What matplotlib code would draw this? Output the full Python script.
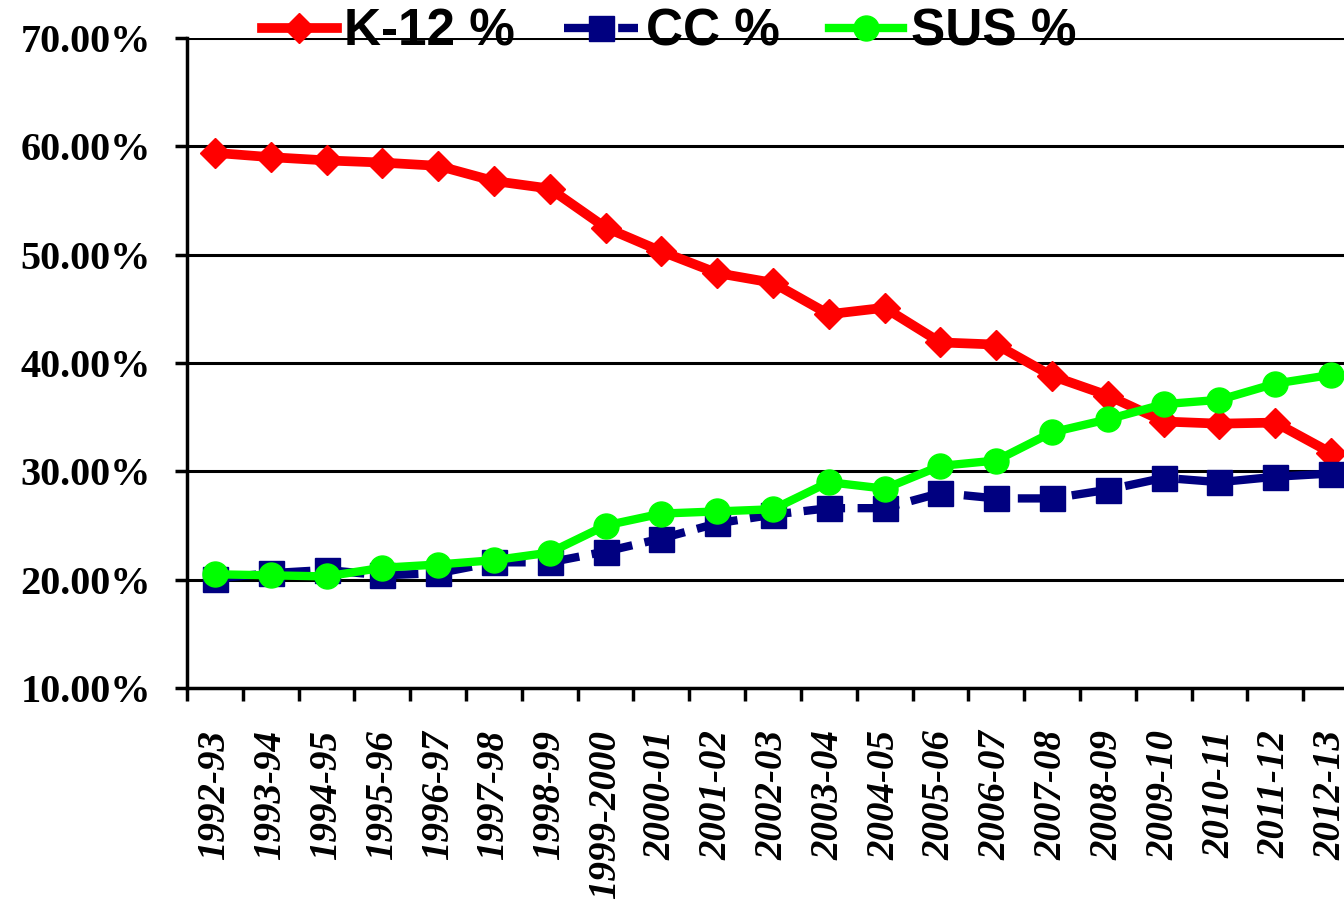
import matplotlib
matplotlib.use('Agg')
import matplotlib.pyplot as plt
import numpy as np

# school years
years = ['1992-93', '1993-94', '1994-95', '1995-96', '1996-97', '1997-98', '1998-99',
         '1999-2000', '2000-01', '2001-02', '2002-03', '2003-04', '2004-05', '2005-06',
         '2006-07', '2007-08', '2008-09', '2009-10', '2010-11', '2011-12', '2012-13']

# shares in percent
k12 = [59.4, 59.0, 58.7, 58.5, 58.2, 56.8, 56.1, 52.5, 50.3, 48.3, 47.4, 44.5, 45.1,
       41.9, 41.7, 38.8, 37.0, 34.6, 34.4, 34.5, 31.7]
cc = [20.1, 20.6, 20.9, 20.4, 20.6, 21.6, 21.6, 22.6, 23.8, 25.2, 26.0, 26.6, 26.6,
      28.0, 27.5, 27.5, 28.3, 29.4, 29.0, 29.5, 29.8]
sus = [20.5, 20.4, 20.3, 21.1, 21.4, 21.8, 22.5, 25.0, 26.1, 26.3, 26.5, 29.0, 28.4,
       30.5, 31.0, 33.6, 34.8, 36.2, 36.6, 38.1, 38.9]

yticks = [10, 20, 30, 40, 50, 60, 70]
ytick_labels = ['%.2f%%' % v for v in yticks]

fig = plt.figure(figsize=(13.44, 9.17), dpi=100)
ax = fig.add_axes([187/1344, 1 - 688/917, (1359 - 187)/1344, (688 - 38)/917])

x = np.arange(len(years))
ax.plot(x, k12, color='#ff0000', lw=7, marker='D', ms=15, label='K-12 %', zorder=3)
ax.plot(x, cc, color='#000080', lw=6, ls=(0, (5, 1.5)), marker='s', ms=18, label='CC %', zorder=3)
ax.plot(x, sus, color='#00ff00', lw=6, marker='o', ms=18, label='SUS %', zorder=4)

ax.set_xlim(-0.5, len(years) - 0.5)
ax.set_ylim(10, 70)
ax.set_yticks(yticks)
ax.set_yticklabels(ytick_labels, fontfamily='Liberation Serif', fontweight='bold', fontsize=29)
for y in yticks[1:]:
    ax.axhline(y, color='black', lw=2.2, zorder=1)

ax.set_xticks(x)
ax.set_xticklabels(years, rotation=90, fontfamily='Liberation Serif', fontweight='bold',
                   fontstyle='italic', fontsize=28)
ax.set_xticks(np.arange(len(years) + 1) - 0.5, minor=True)
ax.tick_params(axis='x', which='major', length=0, pad=30)
ax.tick_params(axis='x', which='minor', length=9, width=2.5, direction='out')
ax.tick_params(axis='y', length=9, width=2.5, direction='out', pad=17)

for s in ['top', 'right']:
    ax.spines[s].set_visible(False)
for s in ['left', 'bottom']:
    ax.spines[s].set_linewidth(2.5)

leg = fig.legend(loc='center', bbox_to_anchor=(0.498, 1 - 32/917), ncol=3, frameon=False,
                 prop={'family': 'Liberation Sans', 'weight': 'bold', 'size': 37},
                 handlelength=1.45, handletextpad=0.15, columnspacing=0.95, borderaxespad=0)

fig.savefig('out.png', dpi=100)
